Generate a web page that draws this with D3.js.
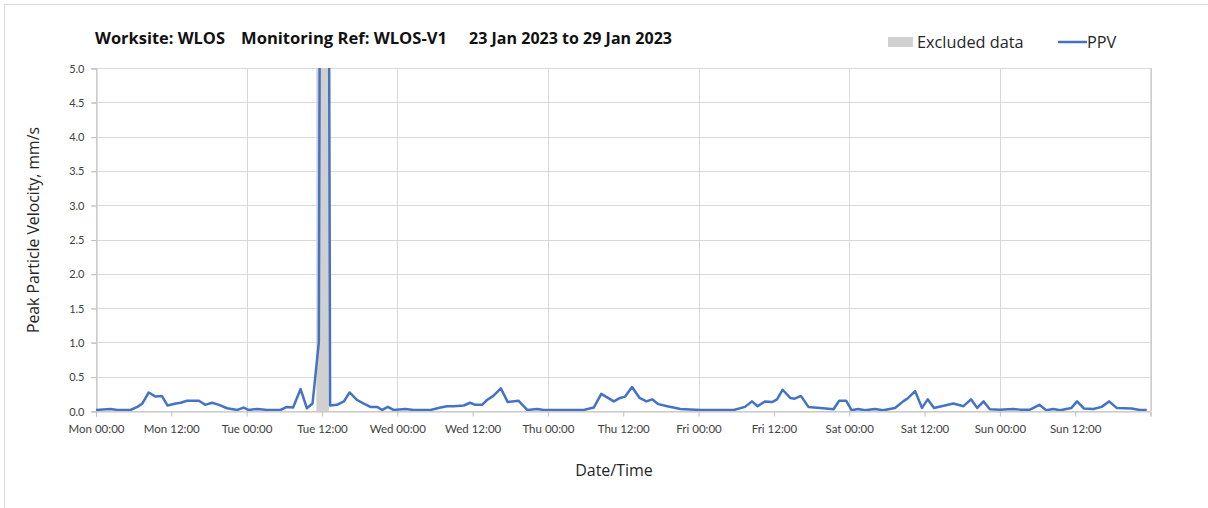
<!DOCTYPE html>
<html>
<head>
<meta charset="utf-8">
<script src="https://cdn.jsdelivr.net/npm/d3@7"></script>
<style>
  body { margin: 0; background: #fff; }
  svg { display: block; font-family: "Open Sans", Lato, sans-serif; }
</style>
</head>
<body>
<svg id="chart" width="1208" height="508"></svg>
<script>
var width = 1208, height = 508;
var margin = {left: 96, right: 57.5, top: 68, bottom: 97};

// hours after Mon 23 Jan 2023 00:00, and PPV in mm/s
var hoursFromStart = [0, 2.3, 3.4, 5.5, 6.6, 7.4, 8.4, 9.5, 10.5, 11.4, 12.7, 13.5, 14.5, 16.4, 17.4, 18.5, 19.6, 20.9, 22.5, 23.5,
  24.3, 25.7, 27.3, 29.4, 30.4, 31.4, 32.6, 33.6, 34.5, 35.5, 36.4, 37.3, 38.4, 39.5, 40.4, 41.6, 42.6, 43.7, 44.8, 45.6,
  46.5, 47.4, 49.3, 50.6, 53.3, 54.9, 55.9, 57.0, 58.6, 59.6, 60.4, 61.5, 62.3, 63.3, 64.5, 65.6, 67.3, 68.7, 70.3, 71.3,
  77.7, 79.3, 80.5, 82.5, 83.5, 84.3, 85.4, 86.6, 87.7, 88.6, 89.6, 91.0, 92.0, 93.1, 95.5, 96.3, 101.6, 103.4, 104.5, 105.4,
  106.6, 107.7, 108.5, 109.4, 110.6, 111.3, 112.3, 113.5, 115.4, 117.5, 118.4, 119.5, 120.4, 121.4, 122.5, 124.1, 125.4, 127.3, 128.6, 129.4,
  130.5, 131.6, 132.5, 133.5, 134.7, 136.6, 138.2, 139.4, 140.4, 141.4, 142.4, 144.0, 146.1, 147.2, 148.8, 150.3, 151.4, 152.5, 153.6, 155.4,
  156.3, 157.4, 158.9, 160.2, 161.4, 162.6, 165.0, 166.3, 167.4];
var ppv = [0.015, 0.03, 0.015, 0.015, 0.06, 0.11, 0.27, 0.21, 0.22, 0.08, 0.11, 0.12, 0.15, 0.15, 0.09, 0.12, 0.09, 0.04, 0.015, 0.05,
  0.015, 0.03, 0.015, 0.015, 0.06, 0.05, 0.32, 0.04, 0.11, 1.0, 30, 0.08, 0.09, 0.14, 0.27, 0.16, 0.11, 0.06, 0.06, 0.015,
  0.06, 0.015, 0.03, 0.015, 0.015, 0.05, 0.07, 0.07, 0.08, 0.12, 0.09, 0.09, 0.16, 0.22, 0.33, 0.13, 0.15, 0.015, 0.03, 0.015,
  0.015, 0.05, 0.25, 0.14, 0.19, 0.21, 0.35, 0.19, 0.14, 0.17, 0.1, 0.07, 0.05, 0.03, 0.02, 0.015, 0.015, 0.06, 0.14, 0.07,
  0.14, 0.13, 0.17, 0.31, 0.19, 0.18, 0.22, 0.06, 0.045, 0.025, 0.15, 0.15, 0.01, 0.03, 0.01, 0.03, 0.01, 0.045, 0.14, 0.19,
  0.29, 0.045, 0.17, 0.045, 0.07, 0.11, 0.07, 0.17, 0.045, 0.14, 0.025, 0.02, 0.03, 0.02, 0.02, 0.09, 0.01, 0.03, 0.01, 0.045,
  0.14, 0.035, 0.03, 0.06, 0.14, 0.045, 0.035, 0.015, 0.015];
var excludedHours = [35.1, 37.1];
var yTicks = [0, 0.5, 1.0, 1.5, 2.0, 2.5, 3.0, 3.5, 4.0, 4.5, 5.0];
var titleParts = ["Worksite: WLOS", "Monitoring Ref: WLOS-V1", "23 Jan 2023 to 29 Jan 2023"];
var legendLabels = ["Excluded data", "PPV"];

var start = Date.UTC(2023, 0, 23);
function toDate(h) { return new Date(start + h * 3600000); }

var x = d3.scaleUtc()
  .domain([toDate(0), toDate(168)])
  .range([margin.left, width - margin.right]);
var y = d3.scaleLinear()
  .domain([0, 5])
  .range([height - margin.bottom, margin.top]);

var svg = d3.select("#chart");

// outer frame
svg.append("rect")
  .attr("x", 4.5).attr("y", 4.5)
  .attr("width", 1220).attr("height", 520)
  .attr("fill", "none").attr("stroke", "#d9d9d9");

svg.append("defs").append("clipPath").attr("id", "plotclip")
  .append("rect")
  .attr("x", margin.left).attr("y", margin.top)
  .attr("width", width - margin.left - margin.right)
  .attr("height", height - margin.top - margin.bottom);

// horizontal grid
svg.append("g")
  .selectAll("line")
  .data(yTicks)
  .enter().append("line")
  .attr("x1", margin.left - 5).attr("x2", width - margin.right)
  .attr("y1", function (d) { return Math.round(y(d)) + 0.5; })
  .attr("y2", function (d) { return Math.round(y(d)) + 0.5; })
  .attr("stroke", "#d9d9d9");

// vertical grid at midnight
svg.append("g")
  .selectAll("line")
  .data(d3.utcDay.range(toDate(0), toDate(169)))
  .enter().append("line")
  .attr("x1", function (d) { return Math.round(x(d)) + 0.5; })
  .attr("x2", function (d) { return Math.round(x(d)) + 0.5; })
  .attr("y1", margin.top).attr("y2", height - margin.bottom)
  .attr("stroke", "#d9d9d9");

// excluded band
svg.append("rect")
  .attr("x", x(toDate(excludedHours[0])))
  .attr("width", x(toDate(excludedHours[1])) - x(toDate(excludedHours[0])))
  .attr("y", margin.top)
  .attr("height", height - margin.top - margin.bottom)
  .attr("fill", "#d0d0d0");

// y axis
var yAxis = d3.axisLeft(y)
  .tickValues(yTicks)
  .tickSize(5)
  .tickPadding(7)
  .tickFormat(d3.format(".1f"));
var gy = svg.append("g")
  .attr("transform", "translate(" + (margin.left + 0.5) + ",0.5)")
  .call(yAxis);
gy.select(".domain").attr("stroke", "#bfbfbf");
gy.selectAll(".tick line").attr("stroke", "#bfbfbf");
gy.selectAll(".tick text").attr("fill", "#404040")
  .style("font-family", "Lato, sans-serif").style("font-size", "11px");

// x axis
var xAxis = d3.axisBottom(x)
  .ticks(d3.utcHour.every(12))
  .tickSize(5)
  .tickPadding(8)
  .tickFormat(function (d) { return d >= toDate(168) ? "" : d3.utcFormat("%a %H:%M")(d); });
var gx = svg.append("g")
  .attr("transform", "translate(0," + (height - margin.bottom + 0.5) + ")")
  .call(xAxis);
gx.select(".domain").attr("stroke", "#bfbfbf");
gx.selectAll(".tick line").attr("stroke", "#bfbfbf");
gx.selectAll(".tick text").attr("fill", "#404040")
  .style("font-family", "Lato, sans-serif").style("font-size", "11.5px");

// right border
svg.append("line")
  .attr("x1", width - margin.right + 0.5).attr("x2", width - margin.right + 0.5)
  .attr("y1", margin.top).attr("y2", height - margin.bottom)
  .attr("stroke", "#bfbfbf");

// PPV line
var line = d3.line()
  .x(function (d, i) { return x(toDate(hoursFromStart[i])); })
  .y(function (d) { return y(d); });
svg.append("path")
  .datum(ppv)
  .attr("clip-path", "url(#plotclip)")
  .attr("d", line)
  .attr("fill", "none")
  .attr("stroke", "#4472c4")
  .attr("stroke-width", 2.5)
  .attr("stroke-linejoin", "round");

// title
var titleX = [95, 241, 469];
var titleW = [130, 206, 203];
svg.append("g").selectAll("text")
  .data(titleParts)
  .enter().append("text")
  .attr("x", function (d, i) { return titleX[i]; })
  .attr("y", 44)
  .attr("textLength", function (d, i) { return titleW[i]; })
  .attr("lengthAdjust", "spacingAndGlyphs")
  .style("font-size", "15.5px")
  .style("font-weight", "bold")
  .attr("fill", "#111")
  .text(function (d) { return d; });

// legend
svg.append("rect")
  .attr("x", 888).attr("y", 37).attr("width", 25).attr("height", 10)
  .attr("fill", "#d0d0d0");
svg.append("text")
  .attr("x", 917).attr("y", 48)
  .style("font-size", "16.3px").attr("fill", "#262626")
  .text(legendLabels[0]);
svg.append("line")
  .attr("x1", 1058).attr("x2", 1087).attr("y1", 42).attr("y2", 42)
  .attr("stroke", "#4472c4").attr("stroke-width", 2.5);
svg.append("text")
  .attr("x", 1087).attr("y", 48)
  .style("font-size", "16.3px").attr("fill", "#262626")
  .text(legendLabels[1]);

// axis titles
svg.append("text")
  .attr("transform", "translate(39,230) rotate(-90)")
  .attr("text-anchor", "middle")
  .style("font-size", "15.8px").attr("fill", "#262626")
  .text("Peak Particle Velocity, mm/s");
svg.append("text")
  .attr("x", 614).attr("y", 476)
  .attr("text-anchor", "middle")
  .style("font-size", "16px").attr("fill", "#262626")
  .text("Date/Time");
</script>
</body>
</html>
